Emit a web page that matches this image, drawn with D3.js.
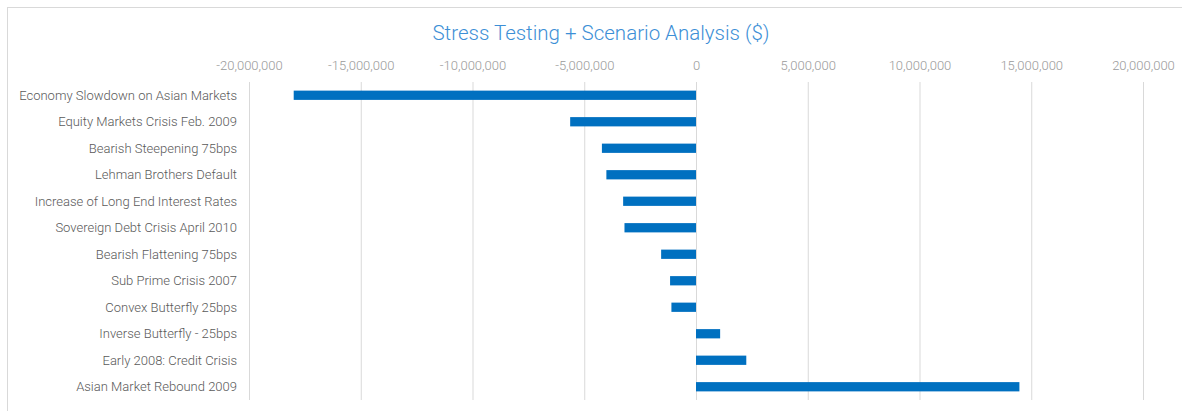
<!DOCTYPE html>
<html>
<head>
<meta charset="utf-8">
<script src="https://cdn.jsdelivr.net/npm/d3@7"></script>
<style>
  body { margin: 0; background: #fff; }
  svg { display: block; font-family: Roboto, "Noto Sans", sans-serif; }
</style>
</head>
<body>
<div class="chart"></div>
<script>
// scenarios, top to bottom
const scenarios = [
  "Economy Slowdown on Asian Markets",
  "Equity Markets Crisis Feb. 2009",
  "Bearish Steepening 75bps",
  "Lehman Brothers Default",
  "Increase of Long End Interest Rates",
  "Sovereign Debt Crisis April 2010",
  "Bearish Flattening 75bps",
  "Sub Prime Crisis 2007",
  "Convex Butterfly 25bps",
  "Inverse Butterfly - 25bps",
  "Early 2008: Credit Crisis",
  "Asian Market Rebound 2009"
];
const pnl = [
  -18000000, -5630000, -4210000, -4010000, -3260000, -3200000,
  -1560000, -1160000, -1100000, 1080000, 2250000, 14470000
];
const tickValues = [-20000000, -15000000, -10000000, -5000000, 0, 5000000, 10000000, 15000000, 20000000];

const W = 1182, H = 411;

var svg = d3.select(".chart")
  .append("svg")
  .attr("width", W)
  .attr("height", H);

// outer frame
svg.append("rect")
  .attr("x", 7.5).attr("y", 7.5)
  .attr("width", W + 10).attr("height", H + 10)
  .attr("fill", "none")
  .attr("stroke", "#d9d9d9");

svg.append("text")
  .text("Stress Testing + Scenario Analysis ($)")
  .attr("x", 601)
  .attr("y", 40)
  .attr("text-anchor", "middle")
  .attr("fill", "#3d8fd6")
  .style("font-size", "20.5px")
  .style("font-weight", 300);

var x = d3.scaleLinear()
  .domain([-20000000, 20000000])
  .range([249, 1143]);

var y = d3.scaleBand()
  .domain(scenarios)
  .range([82, 400])
  .paddingInner(0.65)
  .paddingOuter(0.325);

// grid lines
svg.append("g")
  .selectAll("line")
  .data(tickValues)
  .enter().append("line")
  .attr("x1", d => x(d) + 0.5)
  .attr("x2", d => x(d) + 0.5)
  .attr("y1", 82)
  .attr("y2", 400)
  .attr("stroke", "#d9d9d9")
  .attr("stroke-width", 1);

// top axis labels, plain hyphen for negatives like Excel
var fmt = d3.formatLocale({decimal: ".", thousands: ",", grouping: [3], currency: ["$", ""], minus: "-"}).format(",");
var xAxis = svg.append("g")
  .attr("transform", "translate(0,70)")
  .call(d3.axisTop(x).tickValues(tickValues).tickFormat(fmt).tickSize(0).tickPadding(0));
xAxis.select(".domain").remove();
xAxis.selectAll("text")
  .attr("fill", "#9a9a9a")
  .style("font-family", "Roboto, sans-serif")
  .style("font-size", "13px")
  .style("font-weight", 300);

// bars
svg.append("g")
  .selectAll("rect")
  .data(scenarios)
  .enter().append("rect")
  .attr("x", (d, i) => Math.min(x(0), x(pnl[i])))
  .attr("y", d => y(d))
  .attr("width", (d, i) => Math.abs(x(pnl[i]) - x(0)))
  .attr("height", y.bandwidth())
  .attr("fill", "#0070c0");

// category labels
svg.append("g")
  .selectAll("text")
  .data(scenarios)
  .enter().append("text")
  .text(d => d)
  .attr("x", 237)
  .attr("y", d => y(d) + y.bandwidth() / 2)
  .attr("dy", "0.35em")
  .attr("text-anchor", "end")
  .attr("fill", "#595959")
  .style("font-size", "13px")
  .style("font-weight", 300);
</script>
</body>
</html>
